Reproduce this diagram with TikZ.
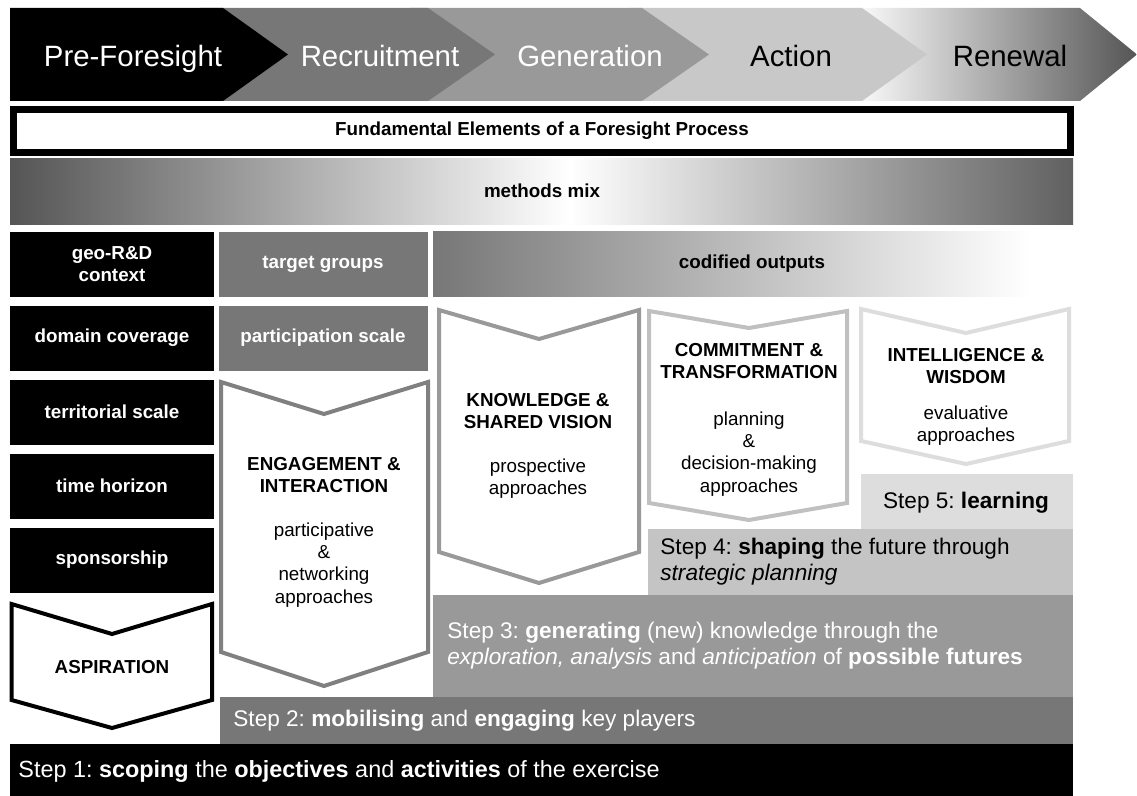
\documentclass[tikz,border=0pt]{standalone}
\usepackage{fontspec}
\setmainfont{Liberation Sans}
\definecolor{gA}{HTML}{777777}
\definecolor{gE}{HTML}{808080}
\definecolor{gB}{HTML}{999999}
\definecolor{gC}{HTML}{C8C8C8}
\definecolor{gF}{HTML}{C0C0C0}
\definecolor{gS}{HTML}{C4C4C4}
\definecolor{gD}{HTML}{DDDDDD}
\definecolor{gK}{HTML}{555555}
\definecolor{gM}{HTML}{606060}
\frenchspacing
\begin{document}
\begin{tikzpicture}[x=0.5pt,y=-0.5pt,
  lbl/.style={font=\fontsize{9.4}{11.1}\selectfont\bfseries, align=center, inner sep=0pt},
  txt/.style={font=\fontsize{9.4}{11.1}\selectfont, align=center, inner sep=0pt},
  steptxt/.style={font=\fontsize{11.3}{13}\selectfont, anchor=west, align=left, inner sep=0pt},
  phase/.style={font=\fontsize{14.7}{16}\selectfont, inner sep=0pt, anchor=base},
  chev/.style={fill=white, line width=2pt, line join=miter}]
\useasboundingbox (0,0) rectangle (1137,796);
% ---- top phase band (back to front)
\path[left color=white, right color=gK] (850,8) -- (1080,8) -- (1137,54.5) -- (1080,101) -- (850,101) -- cycle;
\fill[gC] (630,8) -- (862,8) -- (927,54.5) -- (862,101) -- (630,101) -- cycle;
\fill[gB] (410,8) -- (642,8) -- (709,54.5) -- (642,101) -- (410,101) -- cycle;
\fill[gA] (200,8) -- (428,8) -- (495,54.5) -- (428,101) -- (200,101) -- cycle;
\fill[black] (10,8) -- (223,8) -- (288,54.5) -- (223,101) -- (10,101) -- cycle;
\node[phase, text=white] (p1) at (133,67) {Pre-Foresight};
\node[phase, text=white] (p2) at (380,67) {Recruitment};
\node[phase, text=white] (p3) at (590,67) {Generation};
\node[phase, text=black] (p4) at (791,67) {Action};
\node[phase, text=black] (p5) at (1010,67) {Renewal};
% ---- fundamental elements
\draw[line width=3.5pt, fill=white] (13.5,109.5) rectangle (1070.5,152.5);
\node[lbl] (fund) at (542,131) {Fundamental Elements of a Foresight Process};
% ---- methods mix
\path[left color=gK, right color=white] (10,159) rectangle (570,225);
\path[left color=white, right color=gM] (569,159) rectangle (1073,225);
\node[lbl] (mix) at (542,191) {methods mix};
% ---- left column
\foreach \ya/\yb in {232/297,306/371,380/445,454/519,528/593}
  \fill[black] (10,\ya) rectangle (214,\yb);
\node[lbl, text=white] (geo) at (112,264) {geo-R\&D\\context};
\node[lbl, text=white] (dom) at (112,338) {domain coverage};
\node[lbl, text=white] (terr) at (112,412) {territorial scale};
\node[lbl, text=white] (time) at (112,486) {time horizon};
\node[lbl, text=white] (spon) at (112,560) {sponsorship};
% ---- second column boxes
\fill[gA] (219,232) rectangle (428,297);
\fill[gA] (219,306) rectangle (428,371);
\node[lbl, text=white] (tg) at (323,264) {target groups};
\node[lbl, text=white] (ps) at (323,338) {participation scale};
% ---- codified outputs
\path[left color=gA, right color=white] (433,232) rectangle (1030,297);
\fill[white] (1029,232) rectangle (1073,297);
\node[lbl] (cod) at (752,264) {codified outputs};
% ---- chevrons
\draw[chev, draw=black] (11.5,604) -- (112,634) -- (212,604) -- (212,700) -- (112,728) -- (11.5,700) -- cycle;
\node[lbl] (asp) at (112,667) {ASPIRATION};
\draw[chev, draw=gE] (221,382) -- (324,414) -- (428,382) -- (428,652) -- (324,686) -- (221,652) -- cycle;
\node[lbl] (eng) at (324,475) {ENGAGEMENT \&\\INTERACTION};
\node[txt] (engb) at (324,565) {participative\\\&\\networking\\approaches};
\draw[chev, draw=gB] (439,310) -- (539,339) -- (639,310) -- (639,552) -- (539,583) -- (439,552) -- cycle;
\node[lbl] (kno) at (538,411) {KNOWLEDGE \&\\SHARED VISION};
\node[txt] (knob) at (538,479) {prospective\\approaches};
\draw[chev, draw=gF] (649,311) -- (749,328) -- (847,311) -- (847,503) -- (749,520) -- (649,503) -- cycle;
\node[lbl] (com) at (749,361) {COMMITMENT \&\\TRANSFORMATION};
\node[txt] (comb) at (749,454) {planning\\\&\\decision-making\\approaches};
\draw[chev, draw=gD] (861,309) -- (966,333) -- (1069,309) -- (1069,441) -- (966,464) -- (861,441) -- cycle;
\node[lbl] (int) at (966,366) {INTELLIGENCE \&\\WISDOM};
\node[txt] (intb) at (966,426) {evaluative\\approaches};
% ---- step bars
\fill[gD] (861,474) rectangle (1073,529);
\fill[gS] (648,529) rectangle (1073,595);
\fill[gB] (433,595) rectangle (1073,697);
\fill[gA] (220,697) rectangle (1073,744);
\fill[black] (10,744) rectangle (1073,796);
\node[font=\fontsize{11.3}{13}\selectfont, inner sep=0pt] (s5) at (966,503) {Step 5: \textbf{learning}};
\node[steptxt] (s4) at (660,562) {Step 4: \textbf{shaping} the future through\\\textit{strategic planning}};
\node[steptxt, text=white] (s3) at (447,646) {Step 3: \textbf{generating} (new) knowledge through the\\\textit{exploration, analysis} and \textit{anticipation} of \textbf{possible futures}};
\node[steptxt, text=white] (s2) at (233,721) {Step 2: \textbf{mobilising} and \textbf{engaging} key players};
\node[steptxt, text=white, font=\fontsize{11.7}{14}\selectfont] (s1) at (18,772) {Step 1: \textbf{scoping} the \textbf{objectives} and \textbf{activities} of the exercise};
\end{tikzpicture}
\end{document}
